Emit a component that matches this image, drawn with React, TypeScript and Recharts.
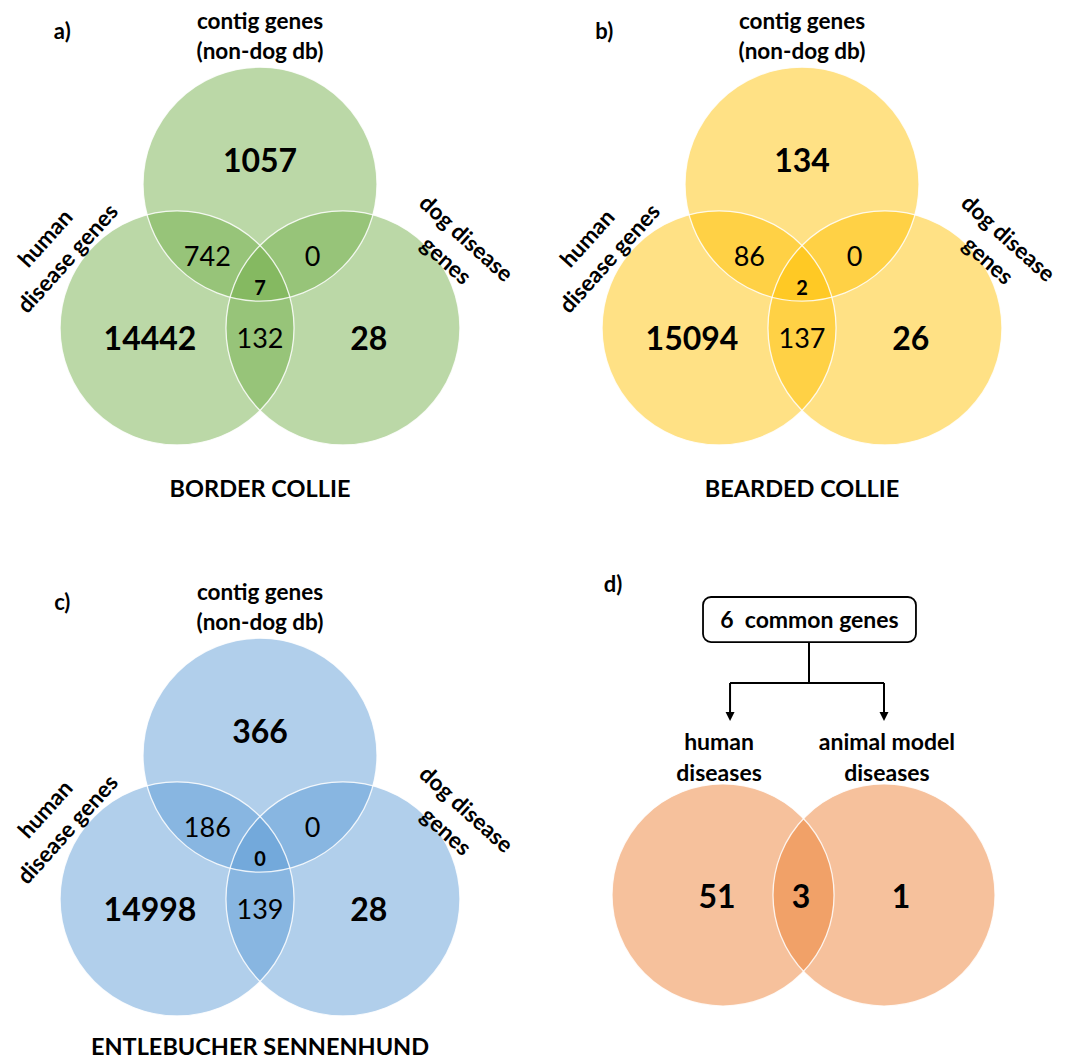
import { ScatterChart, Scatter, XAxis, YAxis, ReferenceLine, ReferenceArea, Label } from "recharts";

// ---- data ----
const panelTags = ["a)", "b)", "c)", "d)"];
const breeds = ["BORDER COLLIE", "BEARDED COLLIE", "ENTLEBUCHER SENNENHUND"];
const setNames = ["contig genes\n(non-dog db)", "human\ndisease genes", "dog disease\ngenes"];

// region counts per breed (a, b, c)
const contigOnly = [1057, 134, 366];
const humanOnly = [14442, 15094, 14998];
const dogOnly = [28, 26, 28];
const contigHuman = [742, 86, 186];
const contigDog = [0, 0, 0];
const humanDog = [132, 137, 139];
const allThree = [7, 2, 0];

// panel d
const commonGenes = 6;
const diseaseSets = ["human\ndiseases", "animal model\ndiseases"];
const humanDiseaseOnly = 51;
const bothDiseases = 3;
const animalModelOnly = 1;

// ---- layout / style ----
const K = 117; // px per venn unit (circle radius of the 3-set diagrams)
const W = 520;
const H = 640;
const FONT = "Lato, 'Open Sans', sans-serif";
const panelColors = ["#70AD47", "#FFC000", "#5B9BD5"];
const dColor = "#ED7D31";
const FILL_OPACITY = 0.48;
// each chart is centred on its diagram's centroid
const panelPos = [
  { cx: 260, cy: 280, titleY: 1.778 },
  { cx: 802, cy: 280, titleY: 1.778 },
  { cx: 260, cy: 851, titleY: 1.67 },
];
const dPos = { cx: 802, cy: 851 };

// circle centres in venn units: top, left, right
const v3Circles = [
  { x: 0, y: -0.819, r: 1 },
  { x: -0.709, y: 0.41, r: 1 },
  { x: 0.709, y: 0.41, r: 1 },
];
const v3Anchors = {
  contigOnly: { x: 0, y: -1.03, fs: 32, bold: true },
  humanOnly: { x: -0.94, y: 0.49, fs: 32, bold: true },
  dogOnly: { x: 0.93, y: 0.49, fs: 32, bold: true },
  contigHuman: { x: -0.45, y: -0.21, fs: 27, bold: false },
  contigDog: { x: 0.45, y: -0.21, fs: 27, bold: false },
  humanDog: { x: 0, y: 0.49, fs: 27, bold: false },
  allThree: { x: 0, y: 0.06, fs: 20, bold: true },
};
const v3SetLabelPos = [
  { x: 0, y: -2.094, rot: 0, lh: 30, fs: 22.5 },
  { x: -1.748, y: -0.278, rot: -48, lh: 30, fs: 22.5 },
  { x: 1.684, y: -0.269, rot: 42, lh: 30, fs: 22.5 },
];
const tagPos = { x: -1.69, y: -2.14 };

const xDomain = [-W / 2 / K, W / 2 / K];
const yDomain = [-H / 2 / K, H / 2 / K];

function TextShape(props: any) {
  const { cx, cy, payload } = props;
  if (cx == null || cy == null) return null;
  const lines = String(payload.text).split("\n");
  const fs = payload.fs;
  const lh = payload.lh ?? fs * 1.2;
  const y0 = -((lines.length - 1) * lh) / 2;
  return (
    <g transform={`translate(${cx},${cy}) rotate(${payload.rot ?? 0})`}>
      <text
        textAnchor={payload.anchor ?? "middle"}
        dominantBaseline="central"
        fontFamily={FONT}
        fontSize={fs}
        fontWeight={payload.bold ? 700 : 400}
        fill="#000"
      >
        {lines.map((l: string, i: number) => (
          <tspan key={i} x={0} y={y0 + i * lh}>
            {l}
          </tspan>
        ))}
      </text>
    </g>
  );
}

const circleFill = (color: string) => (props: any) => {
  const { cx, cy, payload } = props;
  return <circle cx={cx} cy={cy} r={payload.r * K} fill={color} fillOpacity={FILL_OPACITY} stroke="none" />;
};

function CircleEdge(props: any) {
  const { cx, cy, payload } = props;
  return <circle cx={cx} cy={cy} r={payload.r * K} fill="none" stroke="#ffffff" strokeOpacity={0.85} strokeWidth={1.3} />;
}

function Venn3Panel({ i }: { i: number }) {
  const counts: Record<string, number> = {
    contigOnly: contigOnly[i],
    humanOnly: humanOnly[i],
    dogOnly: dogOnly[i],
    contigHuman: contigHuman[i],
    contigDog: contigDog[i],
    humanDog: humanDog[i],
    allThree: allThree[i],
  };
  const regionData = Object.keys(v3Anchors).map((k) => ({
    ...(v3Anchors as any)[k],
    text: String(counts[k]),
  }));
  const labelData = setNames.map((name, j) => ({ ...v3SetLabelPos[j], text: name, bold: true }));
  const titleData = [
    { x: 0, y: panelPos[i].titleY, text: breeds[i], fs: 23.5, bold: true },
    { x: tagPos.x, y: tagPos.y, text: panelTags[i], fs: 22, bold: true },
  ];
  return (
    <ScatterChart width={W} height={H} margin={{ top: 0, right: 0, bottom: 0, left: 0 }}>
      <XAxis type="number" dataKey="x" domain={xDomain} hide allowDataOverflow />
      <YAxis type="number" dataKey="y" domain={yDomain} reversed hide allowDataOverflow />
      <Scatter data={v3Circles} shape={circleFill(panelColors[i])} isAnimationActive={false} />
      <Scatter data={v3Circles} shape={CircleEdge} isAnimationActive={false} />
      <Scatter data={regionData} shape={TextShape} isAnimationActive={false} />
      <Scatter data={labelData} shape={TextShape} isAnimationActive={false} />
      <Scatter data={titleData} shape={TextShape} isAnimationActive={false} />
    </ScatterChart>
  );
}

// panel d layout (same unit system)
const v2Circles = [
  { x: -0.675, y: 0.376, r: 0.949 },
  { x: 0.701, y: 0.376, r: 0.949 },
];
const v2Anchors = [
  { x: -0.726, y: 0.376 },
  { x: -0.009, y: 0.376 },
  { x: 0.846, y: 0.376 },
];
const v2SetLabelPos = [
  { x: -0.709, y: -0.808 },
  { x: 0.726, y: -0.808 },
];
const box = { x1: -0.846, x2: 0.974, y1: -2.171, y2: -1.786 };
const stemX = 0.06;
const branchY = -1.436;
const arrowEndY = -1.111;

function ArrowShape(props: any) {
  const { x1, y1, x2, y2 } = props;
  if (x1 == null) return null;
  return (
    <g>
      <line x1={x1} y1={y1} x2={x2} y2={y2 - 7} stroke="#000" strokeWidth={2} />
      <polygon points={`${x2 - 4.5},${y2 - 9} ${x2 + 4.5},${y2 - 9} ${x2},${y2}`} fill="#000" />
    </g>
  );
}

function BoxShape(props: any) {
  const { x, y, width, height } = props;
  return (
    <rect x={x} y={y} width={width} height={height} rx={8} ry={8} fill="#fff" stroke="#000" strokeWidth={1.8} />
  );
}

function Venn2Panel() {
  const counts = [humanDiseaseOnly, bothDiseases, animalModelOnly];
  const regionData = counts.map((c, j) => ({ ...v2Anchors[j], text: String(c), fs: 32, bold: true }));
  const labelData = diseaseSets.map((s, j) => ({ ...v2SetLabelPos[j], text: s, fs: 23, lh: 31, bold: true }));
  const tagData = [{ x: -1.615, y: -2.291, text: panelTags[3], fs: 22, bold: true }];
  const leftX = v2SetLabelPos[0].x + 0.094;
  const rightX = v2Circles[1].x;
  return (
    <ScatterChart width={W} height={H} margin={{ top: 0, right: 0, bottom: 0, left: 0 }}>
      <XAxis type="number" dataKey="x" domain={xDomain} hide allowDataOverflow />
      <YAxis type="number" dataKey="y" domain={yDomain} reversed hide allowDataOverflow />
      <ReferenceArea x1={box.x1} x2={box.x2} y1={box.y1} y2={box.y2} shape={BoxShape} ifOverflow="visible">
        <Label
          value={`${commonGenes}\u00A0 common genes`}
          position="center"
          fontFamily={FONT}
          fontSize={23}
          fontWeight={700}
          fill="#000"
        />
      </ReferenceArea>
      <ReferenceLine segment={[{ x: stemX, y: box.y2 }, { x: stemX, y: branchY }]} stroke="#000" strokeWidth={2} ifOverflow="visible" />
      <ReferenceLine segment={[{ x: leftX, y: branchY }, { x: rightX, y: branchY }]} stroke="#000" strokeWidth={2} ifOverflow="visible" />
      <ReferenceLine segment={[{ x: leftX, y: branchY }, { x: leftX, y: arrowEndY }]} shape={ArrowShape} ifOverflow="visible" />
      <ReferenceLine segment={[{ x: rightX, y: branchY }, { x: rightX, y: arrowEndY }]} shape={ArrowShape} ifOverflow="visible" />
      <Scatter data={v2Circles} shape={circleFill(dColor)} isAnimationActive={false} />
      <Scatter data={v2Circles} shape={CircleEdge} isAnimationActive={false} />
      <Scatter data={regionData} shape={TextShape} isAnimationActive={false} />
      <Scatter data={labelData} shape={TextShape} isAnimationActive={false} />
      <Scatter data={tagData} shape={TextShape} isAnimationActive={false} />
    </ScatterChart>
  );
}

export default function App() {
  return (
    <div
      style={{
        position: "absolute",
        left: 0,
        top: 0,
        width: 1084,
        height: 1063,
        overflow: "hidden",
        background: "#fff",
      }}
    >
      {panelPos.map((p, i) => (
        <div key={i} style={{ position: "absolute", left: p.cx - W / 2, top: p.cy - H / 2 }}>
          <Venn3Panel i={i} />
        </div>
      ))}
      <div style={{ position: "absolute", left: dPos.cx - W / 2, top: dPos.cy - H / 2 }}>
        <Venn2Panel />
      </div>
    </div>
  );
}
